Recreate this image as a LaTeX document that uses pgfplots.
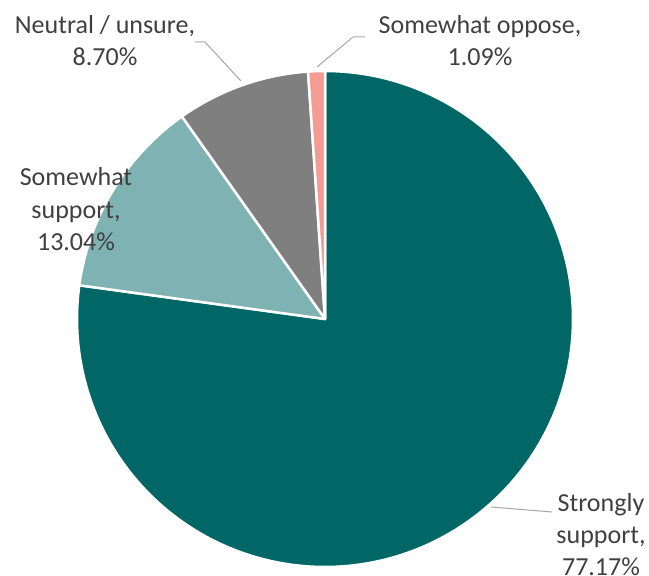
\documentclass[border=0pt]{standalone}
\usepackage{pgfplots}
\pgfplotsset{compat=1.18}
\usepackage{fontspec}
\setmainfont{Carlito}
\definecolor{cStrong}{RGB}{0,102,102}
\definecolor{cSome}{RGB}{127,178,178}
\definecolor{cNeut}{RGB}{127,127,127}
\definecolor{cOpp}{RGB}{244,156,148}
\definecolor{txt}{RGB}{64,64,64}
\definecolor{lead}{RGB}{166,166,166}
% shares (percent)
\def\vA{77.17}\def\vB{13.04}\def\vC{8.70}\def\vD{1.09}
\pgfmathsetmacro{\aA}{90}
\pgfmathsetmacro{\aB}{\aA-3.6*\vA}
\pgfmathsetmacro{\aC}{\aB-3.6*\vB}
\pgfmathsetmacro{\aD}{\aC-3.6*\vC}
\pgfmathsetmacro{\aE}{\aD-3.6*\vD}
\def\cx{325}\def\cy{257}\def\R{248}
\newcommand{\lbl}[1]{\fontsize{26}{32}\selectfont #1}
\begin{document}
\begin{tikzpicture}
\useasboundingbox (0,0) rectangle (649pt,576pt);
\begin{axis}[at={(0,0)},anchor=south west,scale only axis,
  width=649pt,height=576pt,xmin=0,xmax=649,ymin=0,ymax=576,
  hide axis,clip=false]
\addplot[fill=cStrong,draw=white,line width=2.5pt,line join=round,domain=\aB:\aA,samples=200,variable=\t]
  ({\cx+\R*cos(t)},{\cy+\R*sin(t)}) -- (axis cs:\cx,\cy) -- cycle;
\addplot[fill=cSome,draw=white,line width=2.5pt,line join=round,domain=\aC:\aB,samples=60,variable=\t]
  ({\cx+\R*cos(t)},{\cy+\R*sin(t)}) -- (axis cs:\cx,\cy) -- cycle;
\addplot[fill=cNeut,draw=white,line width=2.5pt,line join=round,domain=\aD:\aC,samples=40,variable=\t]
  ({\cx+\R*cos(t)},{\cy+\R*sin(t)}) -- (axis cs:\cx,\cy) -- cycle;
\addplot[fill=cOpp,draw=white,line width=2.5pt,line join=round,domain=\aE:\aD,samples=10,variable=\t]
  ({\cx+\R*cos(t)},{\cy+\R*sin(t)}) -- (axis cs:\cx,\cy) -- cycle;
% leader lines
\addplot[lead,line width=1pt] coordinates {(195,534) (205,534) (241,495)};
\addplot[lead,line width=1pt] coordinates {(365,539) (353,539) (317,509)};
\addplot[lead,line width=1pt] coordinates {(491,69) (552,64)};
% labels
\begin{scope}[every node/.style={text=txt,inner sep=0pt,anchor=base}]
\node at (axis cs:105,542) {\lbl{Neutral / unsure,}};
\node at (axis cs:105,510) {\lbl{8.70\%}};
\node at (axis cs:480,542) {\lbl{Somewhat oppose,}};
\node at (axis cs:480,510) {\lbl{1.09\%}};
\node at (axis cs:76,390) {\lbl{Somewhat}};
\node at (axis cs:76,357) {\lbl{support,}};
\node at (axis cs:76,325) {\lbl{13.04\%}};
\node at (axis cs:601,64) {\lbl{Strongly}};
\node at (axis cs:601,32) {\lbl{support,}};
\node at (axis cs:601,0) {\lbl{77.17\%}};
\end{scope}
\end{axis}
\end{tikzpicture}
\end{document}
